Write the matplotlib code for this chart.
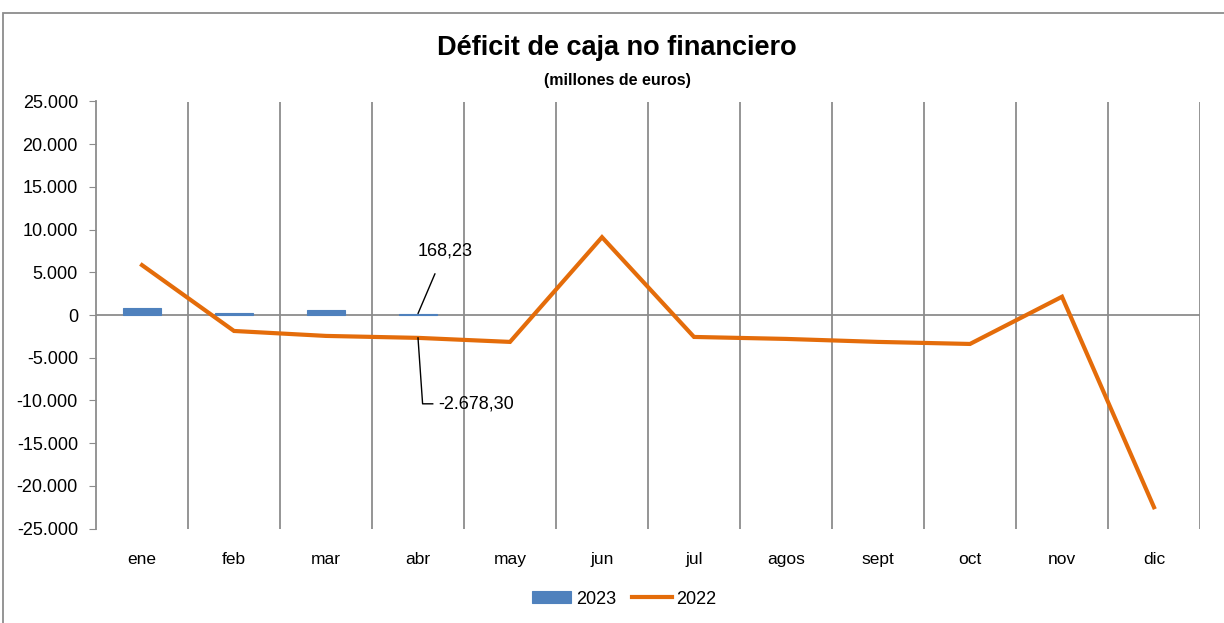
import matplotlib
matplotlib.use("Agg")
import matplotlib.pyplot as plt
from matplotlib.patches import Rectangle
from matplotlib.ticker import FuncFormatter

# --- data ------------------------------------------------------------------
MONTHS = ["ene", "feb", "mar", "abr", "may", "jun", "jul", "agos", "sept", "oct", "nov", "dic"]
Y2023 = [780, 270, 580, 168.23]
Y2022 = [5840, -1870, -2450, -2678.30, -3150, 9110, -2570, -2800, -3150, -3390, 2140, -22510]
YTICKS = [-25000, -20000, -15000, -10000, -5000, 0, 5000, 10000, 15000, 20000, 25000]

BLUE = "#4F81BD"
ORANGE = "#E46C0A"
GREY = "#8C8C8C"
W, H = 1224, 623

plt.rcParams["font.family"] = ["Liberation Sans", "DejaVu Sans"]


def es_num(v, pos=None):
    s = f"{abs(v):,.0f}".replace(",", ".")
    return ("-" if v < 0 else "") + s


fig = plt.figure(figsize=(W / 100, H / 100), dpi=100)
ax = fig.add_axes([96 / W, 1 - 528.5 / H, (1200 - 96) / W, (528.5 - 101.5) / H])

x = list(range(len(MONTHS)))
bars = ax.bar(x[:len(Y2023)], Y2023, width=0.41, color=BLUE, edgecolor=BLUE, lw=0.8,
              label="2023", zorder=3)
line, = ax.plot(x, Y2022, color=ORANGE, lw=3, solid_joinstyle="miter", label="2022", zorder=4)

ax.set_xlim(-0.5, 11.5)
ax.set_ylim(-25000, 25000)
ax.set_yticks(YTICKS)
ax.yaxis.set_major_formatter(FuncFormatter(es_num))
ax.tick_params(axis="y", direction="out", length=5, color=GREY, labelsize=13, pad=8)
ax.set_xticks(x)
ax.set_xticklabels(MONTHS)
ax.tick_params(axis="x", length=0, labelsize=12.5, pad=17)

for s in ["top", "right", "bottom"]:
    ax.spines[s].set_visible(False)
ax.spines["left"].set_color(GREY)
ax.spines["left"].set_linewidth(1.3)

# vertical gridlines between categories and zero line
for b in range(1, len(MONTHS) + 1):
    ax.axvline(b - 0.5, color=GREY, lw=1.3, zorder=1)
ax.axhline(0, color=GREY, lw=1.3, zorder=2)

# data labels for abril
ax.annotate("168,23", xy=(3, Y2023[3]), xytext=(3.29, 7500), ha="center", va="center",
            fontsize=13, arrowprops=dict(arrowstyle="-", color="black", lw=1,
                                         shrinkA=9, shrinkB=0))
ax.plot([3, 3.05, 3.16], [Y2022[3], -10400, -10400], color="black", lw=1, zorder=5)
ax.text(3.22, -10400, "-2.678,30", ha="left", va="center", fontsize=13)

fig.text(617 / W, 1 - 48 / H, "Déficit de caja no financiero", ha="center", va="center",
         fontsize=19.5, fontweight="bold")
fig.text(617 / W, 1 - 80 / H, "(millones de euros)", ha="center", va="center",
         fontsize=11.5, fontweight="bold")

fig.legend([bars, line], ["2023", "2022"], loc="center", bbox_to_anchor=(624 / W, 1 - 599 / H),
           ncol=2, frameon=False, fontsize=13, handlelength=2.2, handleheight=0.6,
           columnspacing=0.9, handletextpad=0.25)

# chart area border
fig.patches.append(Rectangle((3 / W, -0.1), 1.2, 1 - 13 / H + 0.1, transform=fig.transFigure,
                             fill=False, edgecolor=GREY, lw=1.3))

fig.savefig("out.png", dpi=100)
